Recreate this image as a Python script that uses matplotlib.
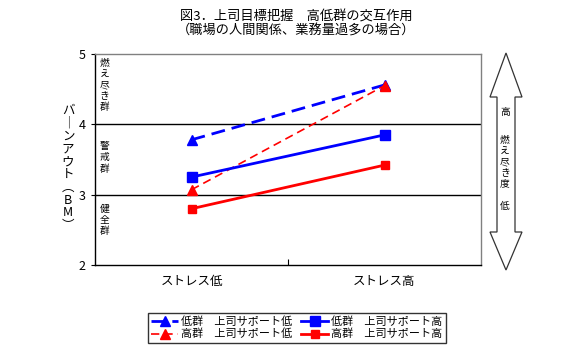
import matplotlib
matplotlib.use("Agg")
import matplotlib.pyplot as plt
from matplotlib.patches import Polygon

plt.rcParams['font.family'] = ['Noto Sans CJK JP', 'DejaVu Sans']

categories = ["ストレス低", "ストレス高"]
low_sup_low = [3.78, 4.56]    # 低群 上司サポート低
low_sup_high = [3.25, 3.85]   # 低群 上司サポート高
high_sup_low = [3.07, 4.55]   # 高群 上司サポート低
high_sup_high = [2.80, 3.42]  # 高群 上司サポート高
yticks = [2, 3, 4, 5]

W, H = 566, 352
fig = plt.figure(figsize=(W / 100, H / 100), dpi=100)
ax = fig.add_axes([95 / W, (H - 265) / H, 386 / W, 211 / H])

x = list(range(len(categories)))
l1, = ax.plot(x, low_sup_low, color='#0000ff', lw=2.0, ls=(0, (5, 2.5)),
              marker='^', ms=6.5, label='低群　上司サポート低')
l3, = ax.plot(x, high_sup_low, color='#ff0000', lw=1.2, ls=(0, (5, 3)),
              marker='^', ms=6.5, label='高群　上司サポート低')
l2, = ax.plot(x, low_sup_high, color='#0000ff', lw=2.0, ls='-',
              marker='s', ms=6.5, label='低群　上司サポート高')
l4, = ax.plot(x, high_sup_high, color='#ff0000', lw=2.0, ls='-',
              marker='s', ms=5.5, label='高群　上司サポート高')

ax.set_xlim(-0.5, 1.5)
ax.set_ylim(2, 5)
ax.set_yticks(yticks)
ax.set_yticklabels([str(v) for v in yticks], fontsize=9)
ax.tick_params(axis='y', length=3, width=0.8, pad=4)
ax.set_xticks(x)
ax.set_xticklabels(categories, fontsize=9)
ax.tick_params(axis='x', which='major', length=0, pad=7)
ax.set_xticks([0.5], minor=True)
ax.tick_params(axis='x', which='minor', length=4, direction='in', width=0.8)

for yv in [3, 4]:
    ax.axhline(yv, color='black', lw=1.0, zorder=0)

ax.spines['left'].set_color('black')
ax.spines['bottom'].set_color('black')
ax.spines['top'].set_color('#808080')
ax.spines['right'].set_color('#808080')
for s in ax.spines.values():
    s.set_linewidth(1.0)

# group labels inside plot
for txt, yv in [("燃\nえ\n尽\nき\n群", 4.56), ("警\n戒\n群", 3.53), ("健\n全\n群", 2.64)]:
    ax.text(-0.45, yv, txt, fontsize=7, ha='center', va='center', linespacing=1.15)

# y label (vertical writing)
ylab = "バ\n｜\nン\nア\nウ\nト\n︵\nB\nM\n︶"
fig.text(68 / W, 1 - 168 / H, ylab, fontsize=9, ha='center', va='center', linespacing=0.98)

# title
fig.text(296 / W, 1 - 17 / H, "図3．上司目標把握　高低群の交互作用", fontsize=9.5, ha='center', va='center')
fig.text(296 / W, 1 - 31 / H, "（職場の人間関係、業務量過多の場合）", fontsize=9.5, ha='center', va='center')

# double arrow on right
def P(px, py):
    return (px / W, 1 - py / H)

pts = [P(506, 53), P(522, 97), P(515, 97), P(515, 232), P(522, 232), P(506, 270),
       P(490, 232), P(497, 232), P(497, 97), P(490, 97)]
arrow = Polygon(pts, closed=True, transform=fig.transFigure, facecolor='white',
                edgecolor='#333333', lw=0.9)
fig.patches.append(arrow)
fig.text(505 / W, 1 - 112 / H, "高", fontsize=7, ha='center', va='center')
fig.text(505 / W, 1 - 162 / H, "燃\nえ\n尽\nき\n度", fontsize=7, ha='center', va='center', linespacing=1.1)
fig.text(505 / W, 1 - 206 / H, "低", fontsize=7, ha='center', va='center')

leg = fig.legend(handles=[l1, l3, l2, l4], ncol=2, loc='center',
                 bbox_to_anchor=(297 / W, 1 - 328 / H), fontsize=8,
                 frameon=True, fancybox=False, edgecolor='black',
                 handlelength=2.4, columnspacing=0.8, handletextpad=0.3,
                 borderpad=0.3, labelspacing=0.15)
leg.get_frame().set_linewidth(1.0)

fig.savefig("out.png", dpi=100)
